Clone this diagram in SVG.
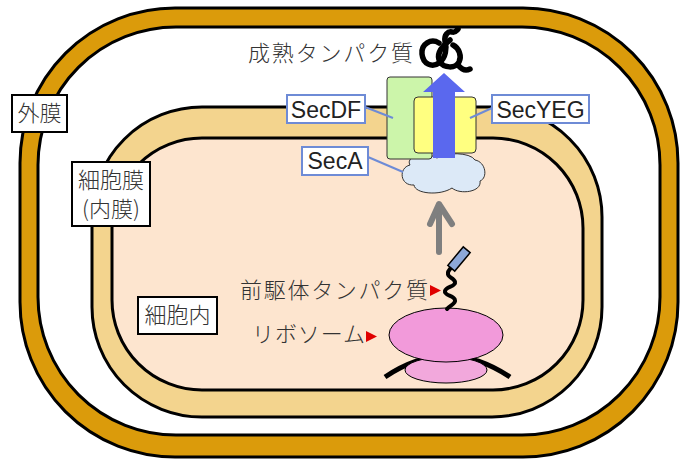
<svg xmlns="http://www.w3.org/2000/svg" width="690" height="470" viewBox="0 0 690 470">
<style>
.jp{font-family:"Noto Sans CJK JP","Noto Sans",sans-serif;font-size:22px;font-weight:300;fill:#333;}
.en{font-family:"Liberation Sans",Arial,sans-serif;font-size:23px;fill:#222;}
.box{fill:#fff;stroke:#000;stroke-width:2;}
.bbox{fill:#fff;stroke:#6E8BD6;stroke-width:2;}
.lead{stroke:#6E8BD6;stroke-width:2;fill:none;}
.tri{fill:#E00000;}
</style>
<rect width="690" height="470" fill="#fff"/>
<g id="outer-membrane">
<rect x="20" y="8" width="658" height="449" rx="155" fill="#DB9B0B" stroke="#000" stroke-width="3"/>
<rect x="38" y="27" width="622" height="408" rx="138" fill="#fff" stroke="#000" stroke-width="3"/>
</g>
<g id="cell-membrane">
<rect x="92" y="107" width="510" height="310" rx="110" fill="#F3D48E" stroke="#000" stroke-width="3"/>
<rect x="112" y="138" width="471" height="252" rx="90" fill="#FDE5CF" stroke="#000" stroke-width="3"/>
</g>
<g id="label-outer">
<rect class="box" x="12" y="95" width="55" height="37"/>
<text class="jp" x="39.5" y="121" text-anchor="middle">外膜</text>
</g>
<g id="label-cellmembrane">
<rect class="box" x="72" y="162" width="78" height="64"/>
<text class="jp" x="111" y="188" text-anchor="middle">細胞膜</text>
<text class="jp" x="111" y="217" text-anchor="middle">(内膜)</text>
</g>
<g id="label-cytoplasm">
<rect class="box" x="138" y="297" width="79" height="37"/>
<text class="jp" x="177.5" y="323" text-anchor="middle">細胞内</text>
</g>
<g id="seca">
<path d="M 410 165 C 405 156, 425 151, 437 158 C 445 152, 470 152, 475 160 C 486 162, 488 178, 480 181 C 482 192, 460 195, 452 188 C 440 196, 415 194, 414 185 C 400 186, 398 168, 410 165 Z" fill="#DCE9F7" stroke="#333" stroke-width="1"/>
</g>
<g id="secdf">
<rect x="387" y="77" width="45" height="82" rx="3" fill="#CCF5AA" stroke="#333" stroke-width="1"/>
</g>
<g id="secyeg">
<rect x="414" y="97" width="62" height="56" rx="4" fill="#FFFF80" stroke="#333" stroke-width="1"/>
</g>
<g id="export-arrow">
<polygon points="433,158 455,158 455,92 465,92 444,73 423,92 433,92" fill="#5A68EE"/>
</g>
<g id="mature-protein">
<text class="jp" x="248" y="61" textLength="165" lengthAdjust="spacing">成熟タンパク質</text>
<g fill="none" stroke="#000" stroke-width="5.5" stroke-linecap="round" stroke-linejoin="round">
<path d="M 439 43 C 431 38, 421 44, 422 54 C 423 64, 432 68, 439 63 C 446 58, 447 48, 445 41 C 444 35, 448 31, 452 32 C 455 33, 456 31, 458 29"/>
<path d="M 450 40 C 441 47, 436 55, 440 62 C 444 68, 455 69, 459 62 C 462 56, 459 48, 453 45"/>
<path d="M 458 65 C 462 70, 466 71, 470 69"/>
</g>
</g>
<g id="label-secdf">
<rect class="bbox" x="287" y="95" width="78" height="28"/>
<text class="en" x="326" y="118" text-anchor="middle">SecDF</text>
</g>
<g id="label-secyeg">
<rect class="bbox" x="492" y="95" width="97" height="28"/>
<text class="en" x="540.5" y="118" text-anchor="middle">SecYEG</text>
</g>
<g id="label-seca">
<rect class="bbox" x="302" y="147" width="66" height="28"/>
<text class="en" x="335" y="169" text-anchor="middle">SecA</text>
</g>
<g id="connectors">
<line class="lead" x1="365" y1="107" x2="393" y2="118"/>
<line class="lead" x1="492" y1="108" x2="470" y2="118"/>
<line class="lead" x1="368" y1="157" x2="403" y2="172"/>
<g fill="none" stroke="#7F7F7F" stroke-width="6" stroke-linecap="round" stroke-linejoin="round">
<line x1="439" y1="252" x2="439" y2="205"/>
<polyline points="430,224 439,204 452,224"/>
</g>
</g>
<g id="ribosome">
<path d="M 385 377 Q 447 335 510 377" fill="none" stroke="#000" stroke-width="5"/>
<ellipse cx="446" cy="370" rx="41" ry="13" fill="#F2A8DC" stroke="#000" stroke-width="1"/>
<ellipse cx="446" cy="335" rx="57" ry="27" fill="#F29ADA" stroke="#000" stroke-width="1"/>
</g>
<g id="precursor-protein">
<path d="M 447 309 C 450 305, 456 304, 455 300 C 454 295, 444 296, 445 291 C 446 286, 456 287, 455 282 C 454 277, 447 278, 448 273 C 448 270, 451 269, 451 267" fill="none" stroke="#000" stroke-width="4" stroke-linecap="round"/>
<rect x="-12" y="-4.5" width="24" height="9" fill="#8DA8D8" stroke="#000" stroke-width="1.5" transform="translate(459 259) rotate(-50)"/>
</g>
<g id="label-precursor">
<text class="jp" x="240" y="298" textLength="188" lengthAdjust="spacing">前駆体タンパク質</text>
<polygon class="tri" points="430,285 441,290.5 430,296"/>
</g>
<g id="label-ribosome">
<text class="jp" x="252" y="342" textLength="113" lengthAdjust="spacing">リボソーム</text>
<polygon class="tri" points="366,331 377,336.5 366,342"/>
</g>
</svg>
